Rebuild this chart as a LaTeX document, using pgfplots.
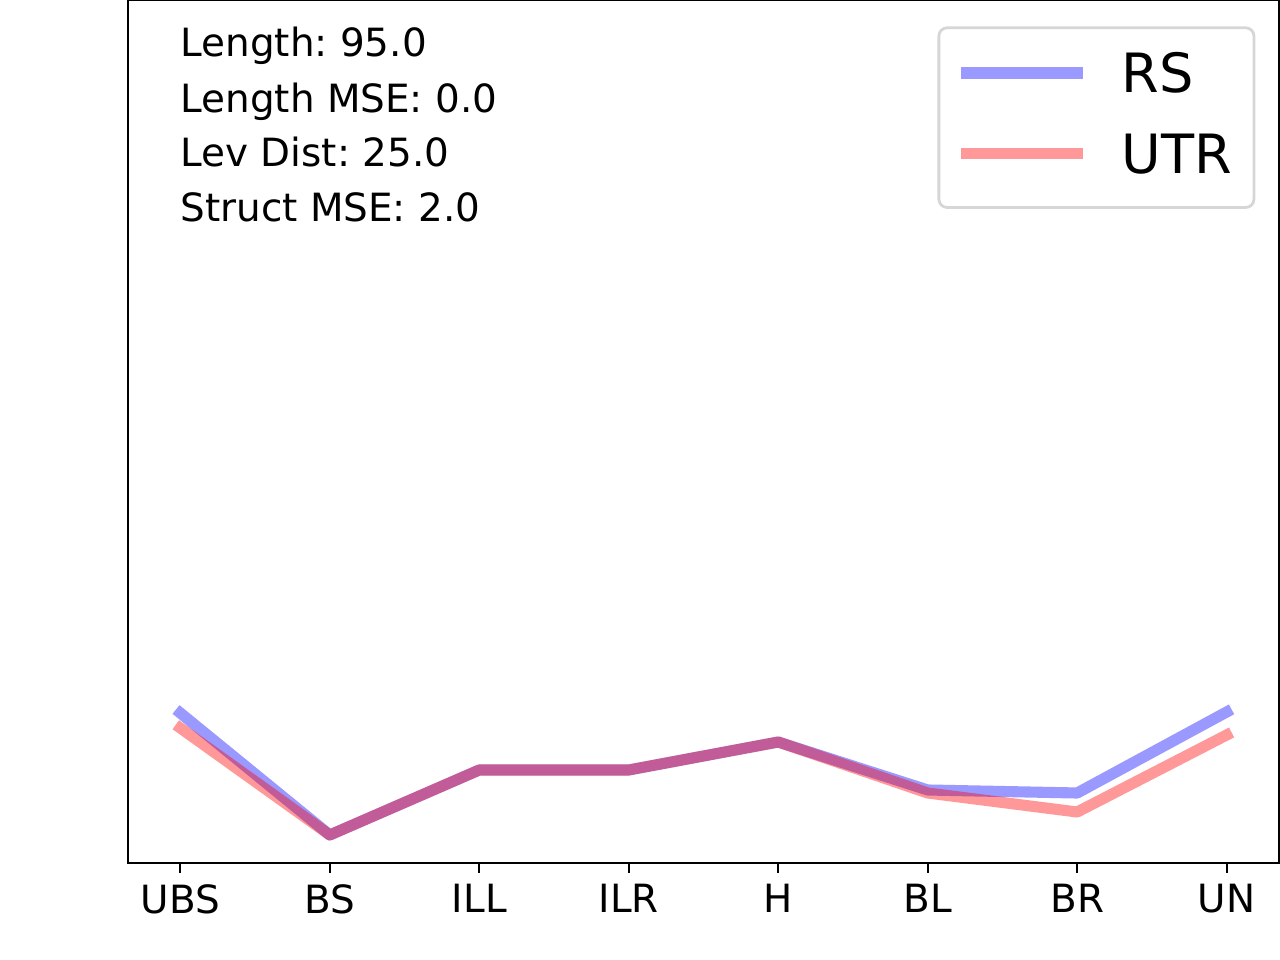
\documentclass[border=0pt]{standalone}
\usepackage{pgfplots}
\pgfplotsset{compat=1.18}
\usepackage{fontspec}
\setmainfont{DejaVu Sans}
\frenchspacing

% one pixel of the 1280x960 reference = 0.36pt
\pgfplotstableread{
x rs utr
0 150 135
1 28 28
2 93 93
3 93 93
4 121 121
5 73 70
6 70 51
7 151 128
}\scores

\begin{document}
\begin{tikzpicture}
\path[use as bounding box] (0,0) rectangle (460.8pt,345.6pt);
\begin{axis}[
  at={(46.08pt,34.92pt)}, anchor=south west,
  scale only axis, width=414.36pt, height=310.68pt,
  xmin=-0.35, xmax=7.35, ymin=0, ymax=863,
  xtick={0,...,7}, xticklabels={UBS,BS,ILL,ILR,H,BL,BR,UN},
  ytick=\empty, xtick pos=bottom,
  axis line style={line width=0.8pt},
  tick align=outside, major tick length=3.5pt,
  xtick style={line width=0.8pt, black},
  xticklabel style={font=\fontsize{14}{14}\selectfont, inner sep=0pt, anchor=north, yshift=-4.06pt},
  legend image code/.code={\draw[#1] (0pt,1.5pt) -- (39.9pt,1.5pt);},
  legend cell align=left,
  legend style={at={(1,1)}, anchor=north east, xshift=-8.5pt, yshift=-9.5pt,
    draw=black!16, line width=1pt, rounded corners=3pt,
    inner xsep=7.9pt, inner ysep=9pt,
    font=\fontsize{19.5}{19.5}\selectfont,
    nodes={inner sep=0pt, text height=14.2pt, text depth=3.4pt},
    column sep=14pt, row sep=11.5pt},
]
\addplot[blue, draw opacity=0.4, line width=4pt, line cap=rect, line join=round] table[x=x, y=rs] {\scores};
\addlegendentry{RS}
\addplot[red, draw opacity=0.4, line width=4pt, line cap=rect, line join=round] table[x=x, y=utr] {\scores};
\addlegendentry{UTR}
\begin{scope}[every node/.style={anchor=base west, inner sep=0pt, font=\fontsize{14}{14}\selectfont}]
\node at (rel axis cs:0.0452,0.9340) {Length: 95.0};
\node at (rel axis cs:0.0452,0.8702) {Length MSE: 0.0};
\node at (rel axis cs:0.0452,0.8065) {Lev Dist: 25.0};
\node at (rel axis cs:0.0452,0.7428) {Struct MSE: 2.0};
\end{scope}
\end{axis}
\end{tikzpicture}
\end{document}
